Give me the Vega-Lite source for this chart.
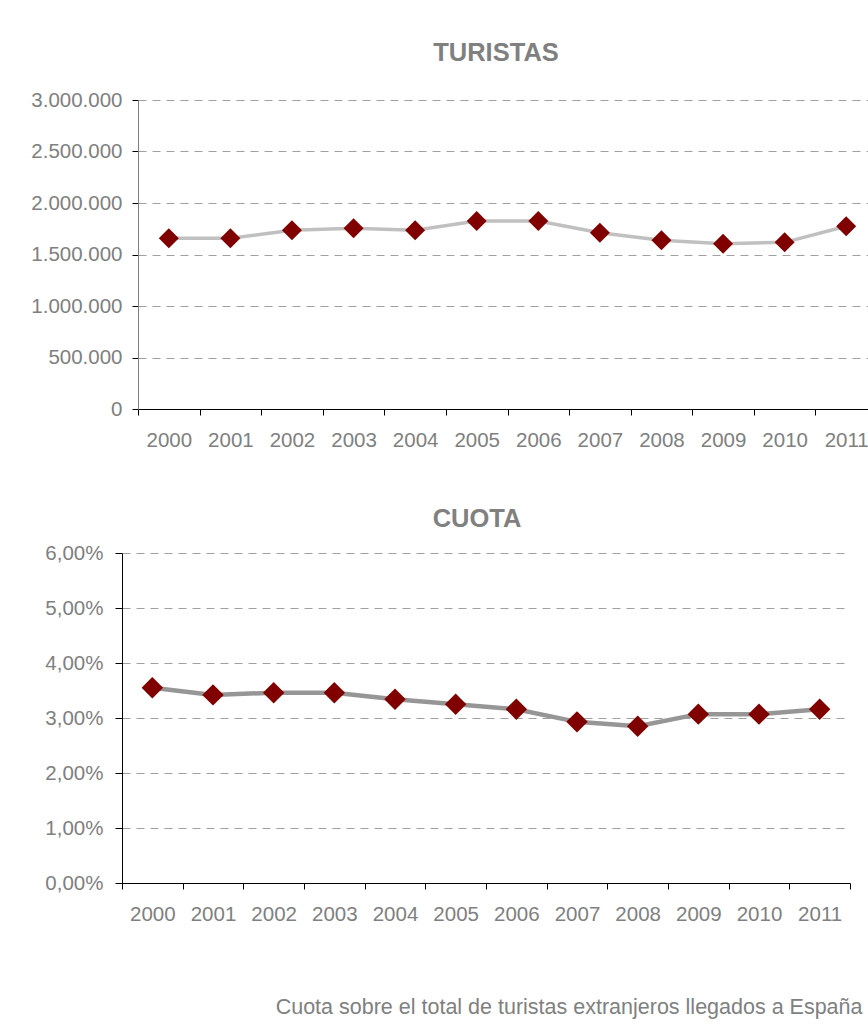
{
  "$schema": "https://vega.github.io/schema/vega-lite/v6.json",
  "padding": {"left": 30, "top": 40, "right": 0, "bottom": 5},
  "autosize": {"type": "pad"},
  "spacing": 55,
  "config": {
    "locale": {"number": {"decimal": ",", "thousands": ".", "grouping": [3], "currency": ["", " €"], "percent": "%"}},
    "view": {"stroke": null},
    "font": "Liberation Sans",
    "axis": {
      "labelFont": "Liberation Sans",
      "labelColor": "#808080",
      "labelFontSize": 20.5,
      "tickColor": "#000000",
      "domainColor": "#000000",
      "gridColor": "#a0a0a0",
      "gridDash": [8, 6],
      "gridWidth": 1.2
    }
  },
  "data": {
    "values": [
      {"year": "2000", "turistas": 1657000, "cuota": 0.0355},
      {"year": "2001", "turistas": 1657000, "cuota": 0.0342},
      {"year": "2002", "turistas": 1735000, "cuota": 0.0346},
      {"year": "2003", "turistas": 1754000, "cuota": 0.0346},
      {"year": "2004", "turistas": 1735000, "cuota": 0.0334},
      {"year": "2005", "turistas": 1825000, "cuota": 0.0325},
      {"year": "2006", "turistas": 1825000, "cuota": 0.0316},
      {"year": "2007", "turistas": 1712000, "cuota": 0.0293},
      {"year": "2008", "turistas": 1638000, "cuota": 0.0285},
      {"year": "2009", "turistas": 1605000, "cuota": 0.0307},
      {"year": "2010", "turistas": 1618000, "cuota": 0.0307},
      {"year": "2011", "turistas": 1774000, "cuota": 0.0316}
    ]
  },
  "vconcat": [
    {
      "width": 755,
      "height": 309,
      "title": {"text": "TURISTAS", "fontSize": 25.5, "fontWeight": "bold", "color": "#808080", "font": "Liberation Sans", "anchor": "middle", "baseline": "alphabetic", "offset": 4, "dx": -3.5},
      "encoding": {
        "x": {
          "field": "year", "type": "ordinal", "bandPosition": 0.5,
          "scale": {"type": "band", "paddingInner": 0, "paddingOuter": 0, "range": [16, 755]},
          "axis": {"title": null, "labelAngle": 0, "tickBand": "extent", "tickSize": 6, "labelPadding": 15, "grid": false, "domainColor": "#000000"}
        },
        "y": {
          "field": "turistas", "type": "quantitative",
          "scale": {"domain": [0, 3000000]},
          "axis": {"title": null, "offset": -16, "values": [0, 500000, 1000000, 1500000, 2000000, 2500000, 3000000], "format": ",.0f", "tickSize": 6, "labelPadding": 10, "domainColor": "#808080", "grid": true}
        }
      },
      "layer": [
        {"mark": {"type": "line", "color": "#c0c0c0", "strokeWidth": 3.5}},
        {"mark": {"type": "point", "shape": "diamond", "filled": true, "color": "#800000", "size": 400, "opacity": 1}}
      ]
    },
    {
      "width": 728,
      "height": 330,
      "title": {"text": "CUOTA", "fontSize": 25.5, "fontWeight": "bold", "color": "#808080", "font": "Liberation Sans", "anchor": "middle", "baseline": "alphabetic", "offset": -9, "dx": -9},
      "encoding": {
        "x": {
          "field": "year", "type": "ordinal", "bandPosition": 0.5,
          "scale": {"type": "band", "paddingInner": 0, "paddingOuter": 0},
          "axis": {"title": "Cuota sobre el total de turistas extranjeros llegados a España", "titleFont": "Liberation Sans", "titleFontSize": 21.5, "titleFontWeight": "normal", "titleColor": "#808080", "titleX": 740, "titleY": 130, "titleAlign": "right", "titleBaseline": "alphabetic", "labelAngle": 0, "tickBand": "extent", "tickSize": 6, "labelPadding": 15, "grid": false}
        },
        "y": {
          "field": "cuota", "type": "quantitative",
          "scale": {"domain": [0, 0.06]},
          "axis": {"title": null, "values": [0, 0.01, 0.02, 0.03, 0.04, 0.05, 0.06], "format": ".2%", "tickSize": 7, "labelPadding": 12, "grid": true}
        }
      },
      "layer": [
        {"mark": {"type": "line", "color": "#969696", "strokeWidth": 4.5}},
        {"mark": {"type": "point", "shape": "diamond", "filled": true, "color": "#800000", "size": 460, "opacity": 1}}
      ]
    }
  ]
}
